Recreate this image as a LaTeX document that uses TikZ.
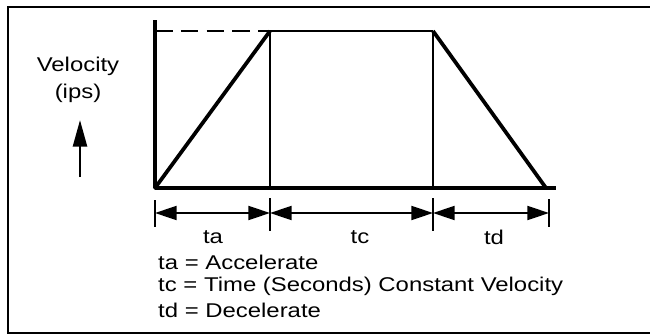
\documentclass[tikz,border=0pt]{standalone}
\usepackage{fontspec}
\setmainfont{Liberation Sans}[FakeStretch=1.2]
\usetikzlibrary{arrows.meta}
\begin{document}
\begin{tikzpicture}[x=0.03cm, y=-0.03cm,
    >={Triangle[length=0.65cm, width=0.42cm]},
    grosso/.style={line width=3.2pt, line join=round},
    medio/.style={line width=2.2pt},
    fino/.style={line width=1.5pt},
    cota/.style={line width=1.8pt, <->},
    rotulo/.style={font=\fontsize{17}{20}\selectfont, inner sep=0pt}]
\useasboundingbox (0,0) rectangle (650,335);
% moldura
\draw[line width=1.8pt] (650,7) -- (8,7) -- (8,333) -- (650,333);
% pontos do perfil
\coordinate (o) at (155,188);
\coordinate (topo) at (155,20);
\coordinate (pa) at (270,31);
\coordinate (pd) at (433,31);
\coordinate (fim) at (546,188);
\coordinate (base) at (556,188);
\coordinate (ba) at (270,188);
\coordinate (bd) at (433,188);
% eixos
\draw[grosso] (topo) -- (o) -- (base);
\draw[line width=1.8pt, dash pattern=on 15pt off 7pt] (155,31) -- (pa);
% perfil trapezoidal
\draw[grosso] (o) -- (pa);
\draw[medio] (pa) -- (pd);
\draw[grosso] (pd) -- (fim);
\draw[fino] (pa) -- (ba);
\draw[medio] (pd) -- (bd);
% cotas
\coordinate (c0) at (155,213);
\coordinate (c1) at (270,213);
\coordinate (c2) at (433,213);
\coordinate (c3) at (549,213);
\draw[medio] (155,200) -- (155,227);
\draw[fino] (270,198) -- (270,231);
\draw[fino] (433,198) -- (433,231);
\draw[medio] (549,199) -- (549,227);
\draw[cota] (c0) -- (c1);
\draw[cota] (c1) -- (c2);
\draw[cota] (c2) -- (c3);
\node[rotulo] (ta) at (213,237) {ta};
\node[rotulo] (tc) at (360,237) {tc};
\node[rotulo] (td) at (494,237) {td};
% legenda
\node[rotulo, anchor=west] (leg1) at (158,262) {ta = Accelerate};
\node[rotulo, anchor=west] (leg2) at (158,286) {tc = Time (Seconds) Constant Velocity};
\node[rotulo, anchor=west] (leg3) at (158,310) {td = Decelerate};
% eixo vertical
\node[rotulo, align=center] (vel) at (78,80) {Velocity\\[3pt](ips)};
\coordinate (seta) at (80,177);
\draw[medio, -{Triangle[length=0.8cm, width=0.42cm]}] (seta) -- (80,120);
\end{tikzpicture}
\end{document}
